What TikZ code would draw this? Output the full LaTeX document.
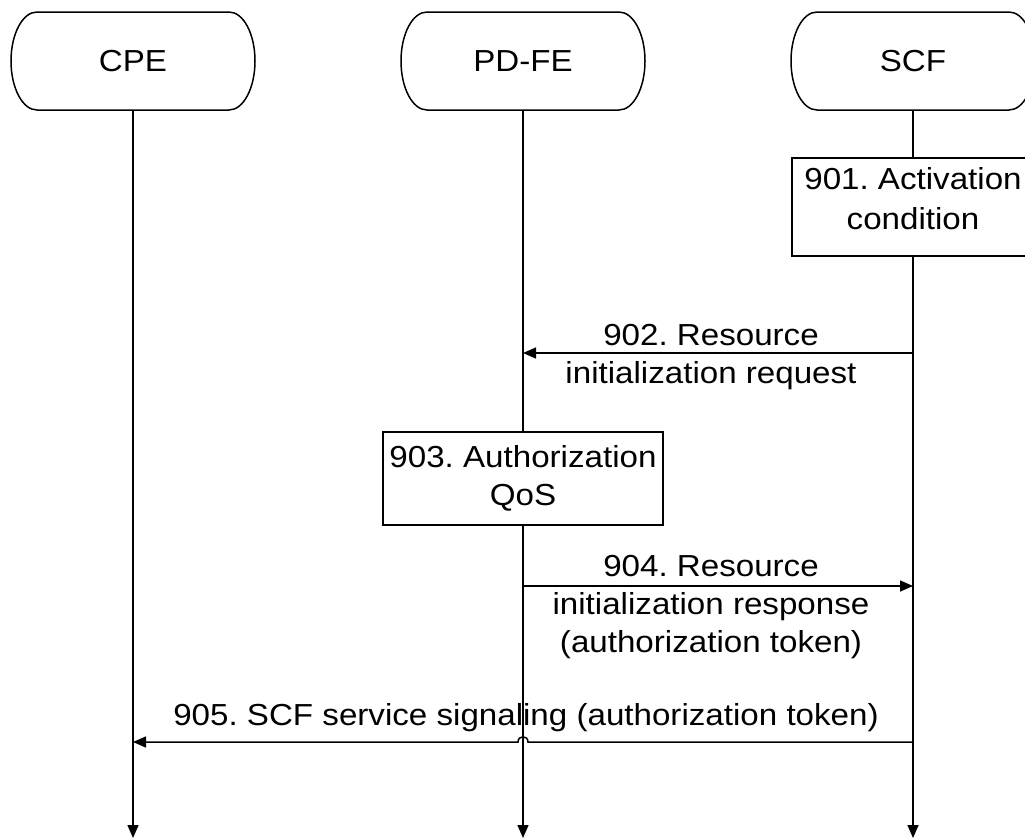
\documentclass[tikz,border=0pt]{standalone}
\usepackage{fontspec}
\setmainfont[FakeStretch=1.09]{Liberation Sans}
\usetikzlibrary{arrows.meta,calc}
\frenchspacing
\newcommand\hdroutline[1]{%
 \draw[hdrline] ($(#1.center)+(-96,-49)$) -- ($(#1.center)+(96,-49)$)
 .. controls ($(#1.center)+(110.4,-49)$) and ($(#1.center)+(122,-27.1)$) .. ($(#1.center)+(122,0)$)
 .. controls ($(#1.center)+(122,27.1)$) and ($(#1.center)+(110.4,49)$) .. ($(#1.center)+(96,49)$)
 -- ($(#1.center)+(-96,49)$)
 .. controls ($(#1.center)+(-110.4,49)$) and ($(#1.center)+(-122,27.1)$) .. ($(#1.center)+(-122,0)$)
 .. controls ($(#1.center)+(-122,-27.1)$) and ($(#1.center)+(-110.4,-49)$) .. ($(#1.center)+(-96,-49)$) -- cycle;}
\begin{document}
\begin{tikzpicture}[x=1pt,y=-1pt,
  font=\frenchspacing\fontsize{30.4}{38}\selectfont,
  hdr/.style={minimum width=245pt, minimum height=98pt, inner sep=0pt},
  hdrline/.style={line width=1.5pt},
  life/.style={line width=1.5pt, -{Triangle[length=13pt,width=11pt]}},
  msg/.style={line width=1.5pt, -{Triangle[length=13pt,width=11pt]}},
  actbox/.style={draw, fill=white, line width=1.5pt, align=center, inner sep=2pt},
  lbl/.style={align=center, anchor=base, inner sep=0pt}]
\useasboundingbox (0,0) rectangle (1025,838);
\clip (0,0) rectangle (1025,838);
% headers
\node[hdr] (cpe) at (133,61) {CPE};
\node[hdr] (pdfe) at (523,61) {PD-FE};
\node[hdr] (scf) at (913,61) {SCF};
\hdroutline{cpe}
\hdroutline{pdfe}
\hdroutline{scf}
% lifelines
\coordinate (cpeend) at (133,838);
\coordinate (pdfeend) at (523,838);
\coordinate (scfend) at (913,838);
\draw[life] (cpe.south) -- (cpeend);
\draw[life] (pdfe.south) -- (pdfeend);
\draw[life] (scf.south) -- (scfend);
% activity boxes
\node[actbox, minimum width=242pt, minimum height=98pt] (b901) at (913,207)
  {901. Activation\\[2pt]condition\rule[-18pt]{0pt}{18pt}};
\node[actbox, minimum width=280pt, minimum height=93pt] (b903) at (523,478.5)
  {903. Authorization\\QoS\rule[-7pt]{0pt}{7pt}};
% 902
\coordinate (s902) at (913,353);
\coordinate (p902) at (523,353);
\draw[msg] (s902) -- (p902);
\node[lbl] (l902) at (711,383) {902. Resource\\initialization request};
% 904
\coordinate (p904) at (523,586);
\coordinate (s904) at (913,586);
\draw[msg] (p904) -- (s904);
\node[lbl] (l904) at (711,652) {904. Resource\\initialization response\\(authorization token)};
% 905
\coordinate (s905) at (913,742);
\coordinate (p905) at (523,742);
\coordinate (c905) at (133,742);
\draw[msg] (s905) -- ($(p905)+(5,0)$) .. controls ($(p905)+(5,-7)$) and ($(p905)+(-5,-7)$) .. ($(p905)+(-5,0)$) -- (c905);
\node[lbl] (l905) at (526,725) {905. SCF service signaling (authorization token)};
\end{tikzpicture}
\end{document}
